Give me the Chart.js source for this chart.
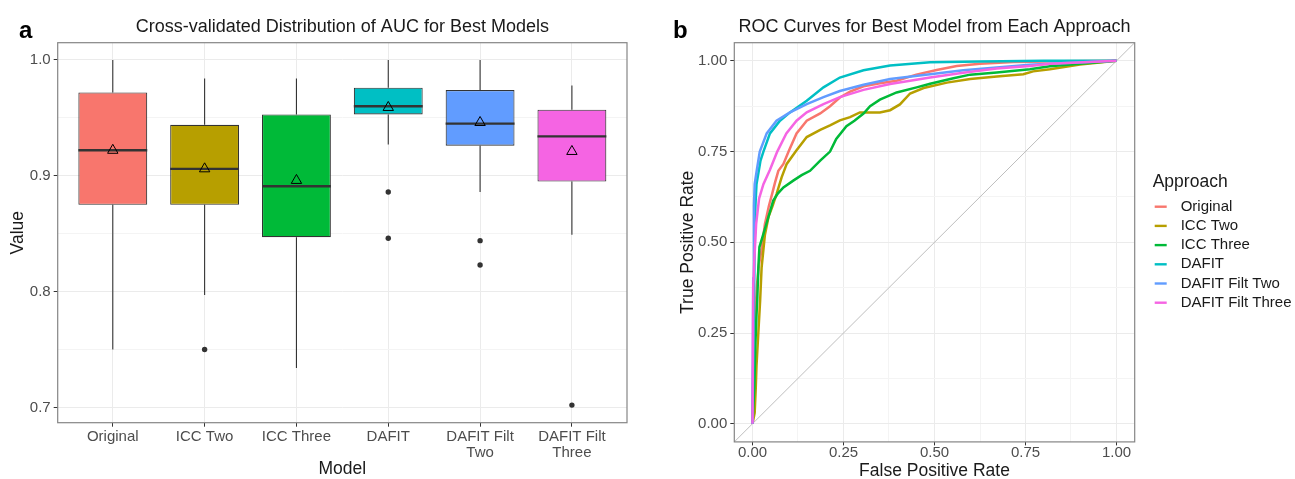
<!DOCTYPE html>
<html>
<head>
<meta charset="utf-8">
<script src="https://cdn.jsdelivr.net/npm/chart.js@4.4.1/dist/chart.umd.min.js"></script>
<style>
  body { margin: 0; background: #fff; }
  #wrap { position: relative; width: 1295px; height: 479px; }
  #left { position: absolute; left: 0; top: 0; }
  #right { position: absolute; left: 650px; top: 0; }
</style>
</head>
<body>
<div id="wrap">
  <canvas id="left" width="650" height="479"></canvas>
  <canvas id="right" width="645" height="479"></canvas>
</div>
<script>
// ---- panel a: boxplot data ----
const models = ['Original', 'ICC Two', 'ICC Three', 'DAFIT', 'DAFIT Filt Two', 'DAFIT Filt Three'];
const modelLabels = ['Original', 'ICC Two', 'ICC Three', 'DAFIT', ['DAFIT Filt', 'Two'], ['DAFIT Filt', 'Three']];
const whiskerLow  = [0.750, 0.797, 0.734, 0.927, 0.886, 0.849];
const q1          = [0.875, 0.875, 0.847, 0.953, 0.926, 0.895];
const medians     = [0.922, 0.906, 0.891, 0.960, 0.945, 0.934];
const q3          = [0.972, 0.944, 0.953, 0.976, 0.974, 0.957];
const whiskerHigh = [1.000, 0.984, 0.984, 1.000, 1.000, 0.978];
const means       = [0.922, 0.906, 0.896, 0.959, 0.946, 0.921];
const outliers    = [[], [0.750], [], [0.886, 0.846], [0.844, 0.823], [0.702]];
const valueTicks  = [0.7, 0.75, 0.8, 0.85, 0.9, 0.95, 1.0];
const valueTickLabels = ['0.7', '', '0.8', '', '0.9', '', '1.0'];

// ---- panel b: ROC curves ----
const approaches = ['Original', 'ICC Two', 'ICC Three', 'DAFIT', 'DAFIT Filt Two', 'DAFIT Filt Three'];
const fprOriginal = [0, 0.004, 0.008, 0.012, 0.018, 0.025, 0.034, 0.045, 0.053, 0.062, 0.071, 0.085, 0.1, 0.121, 0.149, 0.186, 0.213, 0.24, 0.268, 0.305, 0.35, 0.396, 0.45, 0.506, 0.561, 0.625, 0.717, 0.85, 1];
const tprOriginal = [0, 0.15, 0.30, 0.38, 0.44, 0.48, 0.55, 0.60, 0.63, 0.665, 0.697, 0.716, 0.752, 0.80, 0.835, 0.855, 0.875, 0.899, 0.915, 0.93, 0.938, 0.945, 0.962, 0.975, 0.986, 0.992, 0.997, 0.999, 1];
const fprIccTwo = [0, 0.006, 0.009, 0.011, 0.016, 0.021, 0.025, 0.030, 0.034, 0.044, 0.055, 0.066, 0.080, 0.094, 0.12, 0.149, 0.186, 0.213, 0.24, 0.268, 0.295, 0.35, 0.378, 0.405, 0.433, 0.47, 0.534, 0.598, 0.671, 0.744, 0.771, 0.817, 0.9, 1];
const tprIccTwo = [0, 0.03, 0.10, 0.16, 0.25, 0.34, 0.43, 0.48, 0.52, 0.57, 0.60, 0.633, 0.679, 0.716, 0.752, 0.79, 0.81, 0.822, 0.836, 0.845, 0.858, 0.858, 0.864, 0.88, 0.91, 0.925, 0.94, 0.95, 0.957, 0.963, 0.971, 0.977, 0.99, 1];
const fprIccThree = [0, 0.005, 0.008, 0.011, 0.013, 0.016, 0.019, 0.030, 0.0435, 0.057, 0.07, 0.085, 0.112, 0.135, 0.158, 0.186, 0.213, 0.23, 0.258, 0.28, 0.305, 0.323, 0.35, 0.396, 0.451, 0.488, 0.552, 0.598, 0.671, 0.762, 0.817, 0.9, 1];
const tprIccThree = [0, 0.10, 0.22, 0.30, 0.34, 0.43, 0.487, 0.523, 0.569, 0.615, 0.635, 0.651, 0.67, 0.685, 0.697, 0.725, 0.75, 0.785, 0.82, 0.835, 0.855, 0.875, 0.893, 0.913, 0.927, 0.937, 0.952, 0.962, 0.968, 0.977, 0.985, 0.992, 1];
const fprDafit = [0, 0.003, 0.006, 0.008, 0.011, 0.022, 0.03, 0.048, 0.0755, 0.103, 0.149, 0.195, 0.24, 0.305, 0.378, 0.488, 0.625, 0.8, 1];
const tprDafit = [0, 0.25, 0.50, 0.60, 0.66, 0.725, 0.75, 0.80, 0.835, 0.858, 0.89, 0.927, 0.954, 0.974, 0.987, 0.996, 0.998, 1, 1];
const fprFiltTwo = [0, 0.002, 0.004, 0.006, 0.012, 0.02, 0.039, 0.066, 0.103, 0.149, 0.195, 0.24, 0.305, 0.378, 0.488, 0.579, 0.671, 0.762, 0.817, 1];
const tprFiltTwo = [0, 0.40, 0.60, 0.66, 0.70, 0.75, 0.80, 0.835, 0.858, 0.881, 0.90, 0.917, 0.934, 0.95, 0.963, 0.974, 0.982, 0.989, 0.992, 1];
const fprFiltThree = [0, 0.002, 0.005, 0.01, 0.018, 0.03, 0.048, 0.068, 0.093, 0.121, 0.149, 0.195, 0.24, 0.305, 0.378, 0.488, 0.579, 0.671, 0.762, 0.817, 1];
const tprFiltThree = [0, 0.38, 0.45, 0.55, 0.62, 0.66, 0.70, 0.75, 0.80, 0.835, 0.858, 0.881, 0.90, 0.92, 0.936, 0.954, 0.967, 0.979, 0.986, 0.992, 1];
const rateTicks = [0, 0.125, 0.25, 0.375, 0.5, 0.625, 0.75, 0.875, 1];
const rateTickLabels = ['0.00', '', '0.25', '', '0.50', '', '0.75', '', '1.00'];

const colors = ['#F8766D', '#B79F00', '#00BA38', '#00BFC4', '#619CFF', '#F564E3'];
const FONT = '"Liberation Sans", Arial, Helvetica, sans-serif';

const isMajor = (ticks, labels, v) => {
  const i = ticks.findIndex(t => Math.abs(t - v) < 1e-6);
  return i >= 0 && labels[i] !== '';
};

// titles, axis titles, panel border and legend drawn on top of the charts
const panelDeco = {
  id: 'panelDeco',
  afterDatasetsDraw(chart, args, o) {
    const { ctx, chartArea: a } = chart;
    ctx.save();
    ctx.strokeStyle = '#858585';
    ctx.lineWidth = 1.2;
    ctx.strokeRect(a.left, a.top, a.right - a.left, a.bottom - a.top);
    ctx.restore();
  },
  afterDraw(chart, args, o) {
    const { ctx, chartArea: a } = chart;
    ctx.save();
    ctx.fillStyle = '#000';
    ctx.font = 'bold 24px ' + FONT;
    ctx.textAlign = 'left';
    ctx.textBaseline = 'alphabetic';
    ctx.fillText(o.tag, o.tagX, 38);

    ctx.fillStyle = '#1a1a1a';
    ctx.font = '18px ' + FONT;
    ctx.textAlign = 'center';
    ctx.fillText(o.title, (a.left + a.right) / 2, 32);

    ctx.font = '17.5px ' + FONT;
    ctx.textBaseline = 'middle';
    ctx.fillText(o.xTitle, (a.left + a.right) / 2, o.xTitleY);
    ctx.save();
    ctx.translate(o.yTitleX, (a.top + a.bottom) / 2);
    ctx.rotate(-Math.PI / 2);
    ctx.fillText(o.yTitle, 0, 0);
    ctx.restore();

    if (o.legend) {
      const lg = o.legend;
      ctx.textAlign = 'left';
      ctx.font = '17.5px ' + FONT;
      ctx.fillText(lg.title, lg.x, lg.y);
      ctx.font = '15px ' + FONT;
      chart.data.datasets.filter(d => d.inLegend).forEach((d, i) => {
        const y = lg.y + 25 + i * 19.2;
        ctx.strokeStyle = d.borderColor;
        ctx.lineWidth = 2.4;
        ctx.beginPath();
        ctx.moveTo(lg.x + 2, y);
        ctx.lineTo(lg.x + 14, y);
        ctx.stroke();
        ctx.fillStyle = '#1a1a1a';
        ctx.fillText(d.label, lg.x + 28, y);
      });
    }
    ctx.restore();
  }
};

// ---- panel a ----
const whiskerPts = [];
const medianPts = [];
models.forEach((m, i) => {
  whiskerPts.push({ x: i, y: whiskerLow[i] }, { x: i, y: q1[i] }, { x: i, y: null },
                  { x: i, y: q3[i] }, { x: i, y: whiskerHigh[i] }, { x: i, y: null });
  medianPts.push({ x: i - 0.375, y: medians[i] }, { x: i + 0.375, y: medians[i] }, { x: i, y: null });
});
const outlierPts = [];
outliers.forEach((arr, i) => arr.forEach(v => outlierPts.push({ x: i, y: v })));

new Chart(document.getElementById('left'), {
  type: 'bar',
  data: {
    datasets: [
      {
        type: 'line', data: outlierPts, showLine: false, order: 1,
        pointRadius: 2.7, pointBackgroundColor: '#333', pointBorderWidth: 0
      },
      {
        type: 'line', data: means.map((v, i) => ({ x: i, y: v })), showLine: false, order: 2,
        pointStyle: 'triangle', pointRadius: 6, pointBorderColor: '#000',
        pointBackgroundColor: 'rgba(0,0,0,0)', pointBorderWidth: 1
      },
      {
        type: 'line', data: medianPts, order: 3, spanGaps: false,
        borderColor: '#333', borderWidth: 2.4, pointRadius: 0
      },
      {
        type: 'bar', data: models.map((m, i) => ({ x: i, y: [q1[i], q3[i]] })), order: 4,
        backgroundColor: colors, borderColor: '#333', borderWidth: 1.1, borderSkipped: false,
        barPercentage: 0.75, categoryPercentage: 1
      },
      {
        type: 'line', data: whiskerPts, order: 5, spanGaps: false,
        borderColor: '#333', borderWidth: 1.1, pointRadius: 0
      }
    ]
  },
  options: {
    responsive: false,
    animation: false,
    layout: { padding: { left: 0, right: 23, top: 42.7, bottom: 0 } },
    plugins: {
      legend: { display: false },
      tooltip: { enabled: false },
      panelDeco: { tag: 'a', tagX: 19, title: 'Cross-validated Distribution of AUC for Best Models',
                   xTitle: 'Model', xTitleY: 469, yTitle: 'Value', yTitleX: 18 }
    },
    scales: {
      x: {
        type: 'linear', min: -0.6, max: 5.6, offset: false,
        afterBuildTicks: s => { s.ticks = models.map((m, i) => ({ value: i })); },
        afterFit: s => { s.height = 479 - 422.7; },
        ticks: {
          autoSkip: false, maxRotation: 0, padding: 2, color: '#4D4D4D',
          font: { family: FONT, size: 15, lineHeight: 1.07 },
          callback: (v, i) => modelLabels[i]
        },
        grid: { offset: false, color: '#EBEBEB', lineWidth: 1, tickLength: 4, tickColor: '#333' },
        border: { display: false }
      },
      y: {
        min: 0.6868, max: 1.0149,
        afterBuildTicks: s => { s.ticks = valueTicks.map(v => ({ value: v })); },
        afterFit: s => { s.width = 57.7; },
        ticks: {
          padding: 3, color: '#4D4D4D', font: { family: FONT, size: 15 },
          callback: (v, i) => valueTickLabels[i]
        },
        grid: {
          color: c => isMajor(valueTicks, valueTickLabels, c.tick.value) ? '#EBEBEB' : '#F4F4F4',
          tickColor: c => isMajor(valueTicks, valueTickLabels, c.tick.value) ? '#333' : 'rgba(0,0,0,0)',
          lineWidth: 1, tickLength: 4
        },
        border: { display: false }
      }
    }
  },
  plugins: [panelDeco]
});

// ---- panel b ----
const rocFpr = [fprOriginal, fprIccTwo, fprIccThree, fprDafit, fprFiltTwo, fprFiltThree];
const rocTpr = [tprOriginal, tprIccTwo, tprIccThree, tprDafit, tprFiltTwo, tprFiltThree];
const rocSets = approaches.map((name, k) => ({
  label: name,
  inLegend: true,
  data: rocFpr[k].map((x, j) => ({ x: x, y: rocTpr[k][j] })),
  showLine: true,
  borderColor: colors[k],
  borderWidth: 2.5,
  pointRadius: 0,
  order: 6 - k
}));
rocSets.push({
  label: 'diagonal',
  data: [{ x: -0.05, y: -0.05 }, { x: 1.05, y: 1.05 }],
  showLine: true, borderColor: '#BEBEBE', borderWidth: 1, pointRadius: 0, order: 10
});

const rateGrid = {
  color: c => isMajor(rateTicks, rateTickLabels, c.tick.value) ? '#EBEBEB' : '#F4F4F4',
  tickColor: c => isMajor(rateTicks, rateTickLabels, c.tick.value) ? '#333' : 'rgba(0,0,0,0)',
  lineWidth: 1, tickLength: 4
};

new Chart(document.getElementById('right'), {
  type: 'scatter',
  data: { datasets: rocSets },
  options: {
    responsive: false,
    animation: false,
    layout: { padding: { left: 0, right: 645 - 484.7, top: 42.7, bottom: 0 } },
    plugins: {
      legend: { display: false },
      tooltip: { enabled: false },
      panelDeco: { tag: 'b', tagX: 23, title: 'ROC Curves for Best Model from Each Approach',
                   xTitle: 'False Positive Rate', xTitleY: 471, yTitle: 'True Positive Rate', yTitleX: 38,
                   legend: { title: 'Approach', x: 502.7, y: 181.7 } }
    },
    scales: {
      x: {
        type: 'linear', min: -0.05, max: 1.05,
        afterBuildTicks: s => { s.ticks = rateTicks.map(v => ({ value: v })); },
        afterFit: s => { s.height = 479 - 441.9; },
        ticks: {
          autoSkip: false, maxRotation: 0, padding: 0, color: '#4D4D4D',
          font: { family: FONT, size: 15, lineHeight: 1 },
          callback: (v, i) => rateTickLabels[i]
        },
        grid: Object.assign({}, rateGrid, { tickLength: 3.5 }),
        border: { display: false }
      },
      y: {
        type: 'linear', min: -0.05, max: 1.05,
        afterBuildTicks: s => { s.ticks = rateTicks.map(v => ({ value: v })); },
        afterFit: s => { s.width = 84.3; },
        ticks: {
          autoSkip: false, padding: 3, color: '#4D4D4D',
          font: { family: FONT, size: 15 },
          callback: (v, i) => rateTickLabels[i]
        },
        grid: rateGrid,
        border: { display: false }
      }
    }
  },
  plugins: [panelDeco]
});
</script>
</body>
</html>
